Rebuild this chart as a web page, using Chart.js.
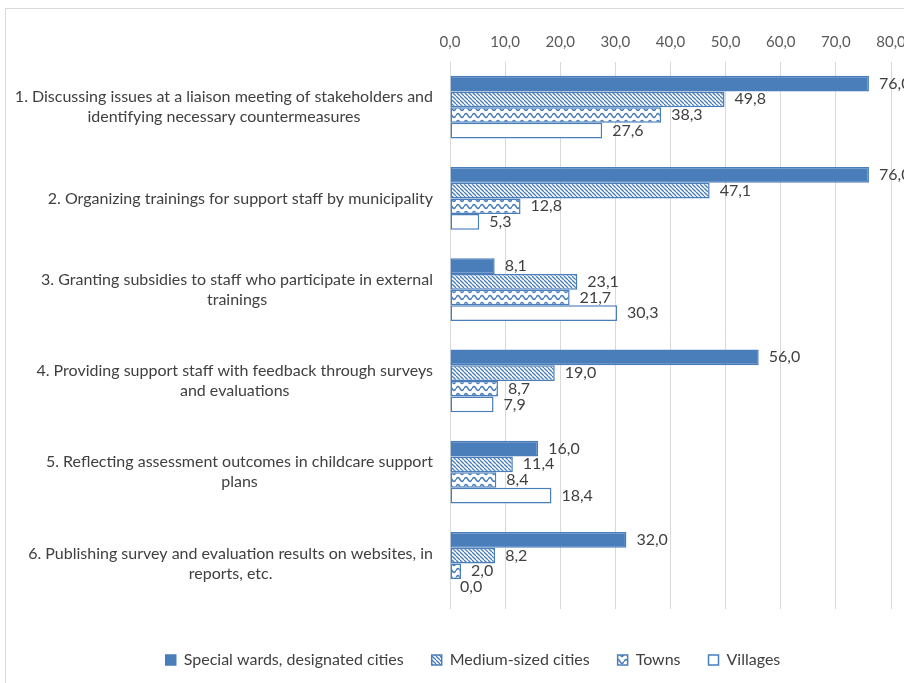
<!DOCTYPE html>
<html>
<head>
<meta charset="utf-8">
<script src="https://cdn.jsdelivr.net/npm/chart.js@4"></script>
<style>
  html, body { margin: 0; padding: 0; background: #fff; }
  #wrap { width: 904px; height: 683px; }
</style>
</head>
<body>
<div id="wrap"><canvas id="supportChart" width="904" height="683"></canvas></div>
<script>
// Категории (строки подписи, как в оригинале)
var categories = [
    ["1. Discussing issues at a liaison meeting of stakeholders and", "identifying necessary countermeasures"],
    ["2. Organizing trainings for support staff by municipality"],
    ["3. Granting subsidies to staff who participate in external", "trainings"],
    ["4. Providing support staff with feedback through surveys", "and evaluations"],
    ["5. Reflecting assessment outcomes in childcare support", "plans"],
    ["6. Publishing survey and evaluation results on websites, in", "reports, etc."]
];
var seriesNames = ["Special wards, designated cities", "Medium-sized cities", "Towns", "Villages"];
var specialWards = [76.0, 76.0, 8.1, 56.0, 16.0, 32.0];
var mediumCities = [49.8, 47.1, 23.1, 19.0, 11.4, 8.2];
var towns = [38.3, 12.8, 21.7, 8.7, 8.4, 2.0];
var villages = [27.6, 5.3, 30.3, 7.9, 18.4, 0.0];
var xTicks = [0, 10, 20, 30, 40, 50, 60, 70, 80];

var blue = "#4a7ebb";
var textColor = "#404040";
var fontFamily = "Lato, 'Noto Sans', sans-serif";

// Запятая вместо точки
function fmt(v) {
    return v.toFixed(1).replace(".", ",");
}

// Штриховка "\\"
function makeHatch() {
    var c = document.createElement("canvas");
    c.width = 4; c.height = 4;
    var g = c.getContext("2d");
    g.fillStyle = "#fff";
    g.fillRect(0, 0, 4, 4);
    g.strokeStyle = blue;
    g.lineWidth = 1.3;
    for (var o = -4; o <= 4; o += 4) {
        g.beginPath();
        g.moveTo(o, 0);
        g.lineTo(o + 4, 4);
        g.stroke();
    }
    return g.createPattern(c, "repeat");
}

// Волна
function makeWave() {
    var c = document.createElement("canvas");
    c.width = 8; c.height = 7;
    var g = c.getContext("2d");
    g.fillStyle = "#fff";
    g.fillRect(0, 0, 8, 7);
    g.strokeStyle = blue;
    g.lineWidth = 1.5;
    g.beginPath();
    for (var x = 0; x <= 8; x += 0.5) {
        var y = 3.5 - 2 * Math.sin(2 * Math.PI * x / 8);
        if (x === 0) g.moveTo(x, y); else g.lineTo(x, y);
    }
    g.stroke();
    return g.createPattern(c, "repeat");
}

var fills = [blue, makeHatch(), makeWave(), "#ffffff"];
var seriesValues = [specialWards, mediumCities, towns, villages];

var datasets = seriesNames.map(function (name, i) {
    return {
        label: name,
        data: seriesValues[i],
        backgroundColor: fills[i],
        borderColor: blue,
        borderWidth: 1.5,
        borderSkipped: false,
        categoryPercentage: 0.69,
        barPercentage: 1.0
    };
});

// Рамка, подписи категорий и значений
var drawPlugin = {
    id: "drawExtras",
    afterLayout: function (chart) {
        // сдвиг легенды вправо, как в оригинале
        chart.legend.left += 22;
        chart.legend.right += 22;
    },
    beforeDraw: function (chart) {
        var ctx = chart.ctx;
        ctx.save();
        ctx.strokeStyle = "#d9d9d9";
        ctx.lineWidth = 1;
        ctx.strokeRect(5.5, 8.5, 920, 700);
        ctx.restore();
    },
    afterDraw: function (chart) {
        var ctx = chart.ctx;
        var yScale = chart.scales.y;
        ctx.save();
        ctx.font = "16px " + fontFamily;
        ctx.fillStyle = textColor;
        ctx.textBaseline = "middle";
        ctx.textAlign = "center";
        var rightEdge = 433;
        var lineH = 20;
        categories.forEach(function (lines, i) {
            var cy = yScale.getPixelForValue(i);
            var w = 0;
            lines.forEach(function (l) { w = Math.max(w, ctx.measureText(l).width); });
            var cx = rightEdge - w / 2;
            lines.forEach(function (l, j) {
                ctx.fillText(l, cx, cy + (j - (lines.length - 1) / 2) * lineH);
            });
        });
        ctx.textAlign = "left";
        chart.data.datasets.forEach(function (ds, di) {
            var meta = chart.getDatasetMeta(di);
            meta.data.forEach(function (bar, k) {
                ctx.fillText(fmt(ds.data[k]), bar.x + 10, bar.y);
            });
        });
        ctx.restore();
    }
};

var chart = new Chart(document.getElementById("supportChart").getContext("2d"), {
    type: "bar",
    data: {
        labels: categories.map(function (c) { return c.join(" "); }),
        datasets: datasets
    },
    plugins: [drawPlugin],
    options: {
        responsive: false,
        animation: false,
        indexAxis: "y",
        layout: { padding: { top: 22.5, right: 2, bottom: 5, left: 0 } },
        scales: {
            x: {
                position: "top",
                min: xTicks[0],
                max: xTicks[xTicks.length - 1],
                afterBuildTicks: function (scale) {
                    scale.ticks = xTicks.map(function (v) { return { value: v }; });
                },
                afterFit: function (scale) {
                    scale.paddingLeft = 0;
                    scale.paddingRight = 13;
                },
                ticks: {
                    callback: function (v) { return fmt(v); },
                    color: "#595959",
                    font: { size: 15, family: fontFamily },
                    padding: 10.5,
                    maxRotation: 0
                },
                grid: { color: "#d9d9d9", drawTicks: false },
                border: { display: false }
            },
            y: {
                ticks: { display: false },
                grid: { display: false },
                border: { display: false },
                afterFit: function (scale) { scale.width = 450; }
            }
        },
        plugins: {
            legend: {
                position: "bottom",
                title: { display: true, text: "", font: { size: 10 }, padding: { top: 0, bottom: 3 } },
                labels: {
                    color: textColor,
                    font: { size: 16, family: fontFamily },
                    boxWidth: 10,
                    boxHeight: 10,
                    padding: 28
                }
            },
            tooltip: { enabled: false }
        }
    }
});
</script>
</body>
</html>
